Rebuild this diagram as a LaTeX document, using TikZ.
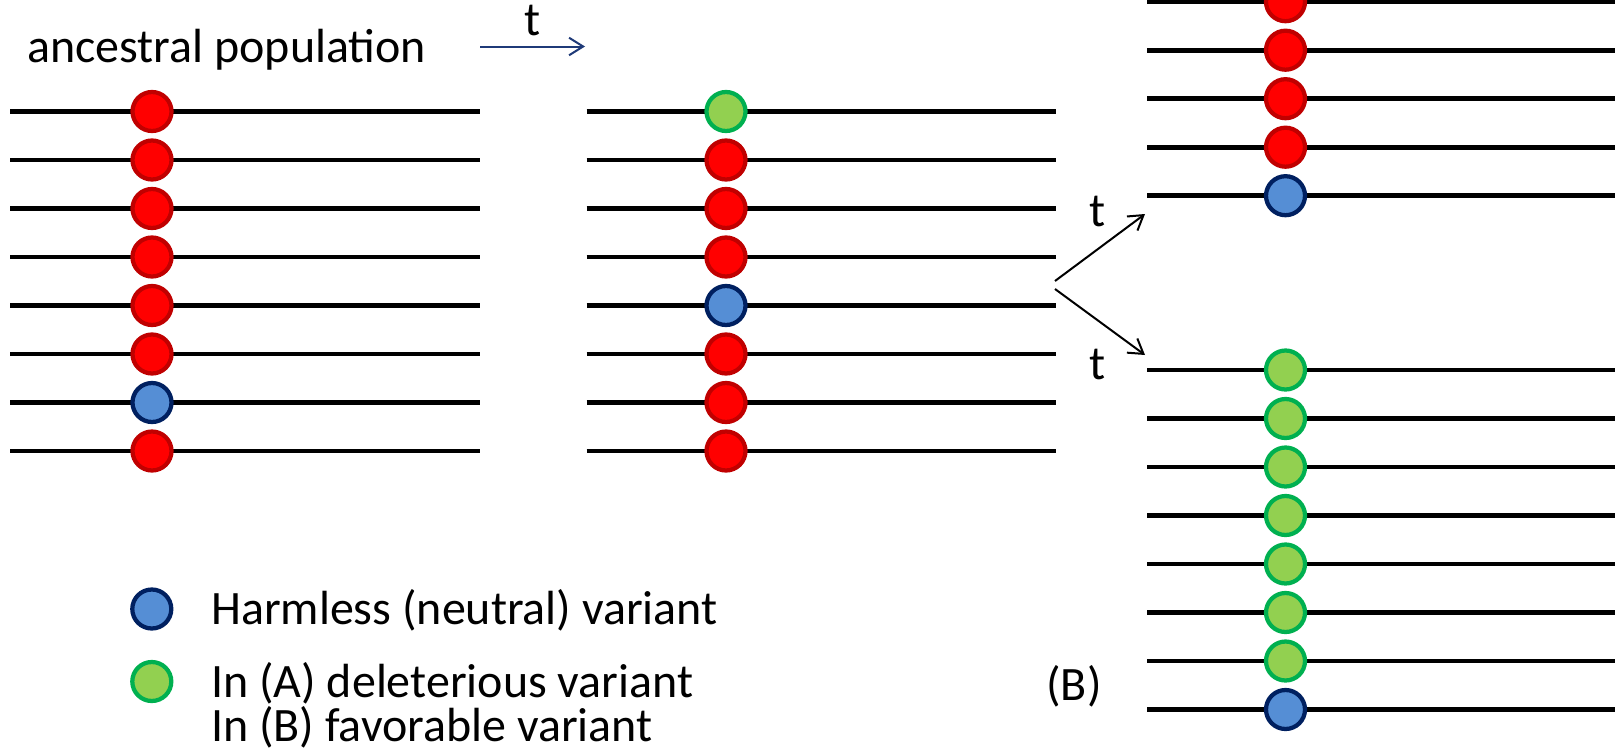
\documentclass[tikz,border=0pt]{standalone}
\usepackage{fontspec}
\setmainfont{Carlito}
\usetikzlibrary{arrows.meta,positioning}
\definecolor{redfill}{HTML}{FF0000}
\definecolor{redline}{HTML}{C00000}
\definecolor{bluefill}{HTML}{558ED5}
\definecolor{blueline}{HTML}{002060}
\definecolor{greenfill}{HTML}{92D050}
\definecolor{greenline}{HTML}{00B050}
\definecolor{timeblue}{HTML}{1F3A78}
\tikzset
{
    strand/.style  = {line width=0.095cm, black},
    dot/.style     = {circle, draw=#1line, fill=#1fill, line width=0.085cm, minimum size=0.78cm, inner sep=0pt},
    caption/.style = {font=\fontsize{27.3}{32}\selectfont, inner sep=0pt, text=black},
    timearrow/.style = {line width=0.04cm, -{Straight Barb[length=8pt,width=10pt]}}
}

\begin{document}
\begin{tikzpicture}[x=0.02cm, y=-0.02cm]
\useasboundingbox (0,0) rectangle (1619,747);
\newcommand\XA{10}
\newcommand\XB{586.5}
\newcommand\XC{1147}
\newcommand\YA{111.5}
\newcommand\YC{1.7}
\newcommand\YD{370}

% ancestral population
\foreach \kind [count=\i] in {red,red,red,red,red,red,blue,red} {
	\coordinate (a\i-w) at (\XA,\YA+48.5*\i-48.5);
	\coordinate (a\i-e) at (\XA+470,\YA+48.5*\i-48.5);
	\draw[strand] (a\i-w) -- (a\i-e);
	\node (a\i) [dot=\kind] at (\XA+142,\YA+48.5*\i-48.5) {};
}
% after time t
\foreach \kind [count=\i] in {green,red,red,red,blue,red,red,red} {
	\coordinate (b\i-w) at (\XB,\YA+48.5*\i-48.5);
	\coordinate (b\i-e) at (\XB+469,\YA+48.5*\i-48.5);
	\draw[strand] (b\i-w) -- (b\i-e);
	\node (b\i) [dot=\kind] at (\XB+139.5,\YA+48.5*\i-48.5) {};
}
% (A) upper branch
\foreach \kind [count=\i] in {red,red,red,red,blue} {
	\coordinate (c\i-w) at (\XC,\YC+48.5*\i-48.5);
	\coordinate (c\i-e) at (\XC+468,\YC+48.5*\i-48.5);
	\draw[strand] (c\i-w) -- (c\i-e);
	\node (c\i) [dot=\kind] at (\XC+138.5,\YC+48.5*\i-48.5) {};
}
% (B) lower branch
\foreach \kind [count=\i] in {green,green,green,green,green,green,green,blue} {
	\coordinate (d\i-w) at (\XC,\YD+48.5*\i-48.5);
	\coordinate (d\i-e) at (\XC+468,\YD+48.5*\i-48.5);
	\draw[strand] (d\i-w) -- (d\i-e);
	\node (d\i) [dot=\kind] at (\XC+138.5,\YD+48.5*\i-48.5) {};
}

\node (ancestral)	[caption,anchor=base west]	at (27,62)		{ancestral population};
\node (panelB)		[caption,anchor=base]		at (1074,700)	{(B)};
\node (tup)			[caption,anchor=base]		at (1098,226)	{t};
\node (tdown)		[caption,anchor=base]		at (1098,379)	{t};

% legend
\node (keyN)	[dot=blue]	at (151.8,609)		{};
\node (keyS)	[dot=green]	at (151.8,681.5)	{};
\node (keyNl)	[caption,anchor=base west]	at ([shift={(59,15)}]keyN)	{Harmless (neutral) variant};
\node (keySl)	[caption,anchor=base west]	at ([shift={(59,15.5)}]keyS)	{In (A) deleterious variant};
\node (keySl2)	[caption,anchor=base west]	at ([shift={(0,44)}]keySl.base west)	{In (B) favorable variant};

\coordinate (t0) at (480,46.5);
\coordinate (t1) at (585,46.5);
\coordinate (forkA) at (1055,281);
\coordinate (forkB) at (1055,289);
\coordinate (endA) at (1145,214);
\coordinate (endB) at (1145,355);

\path
(t0)	edge[timearrow,timeblue]	node[caption,above=0.2cm]	{t} (t1)
(forkA)	edge[timearrow]				node 					{} (endA)
(forkB)	edge[timearrow]				node 					{} (endB);
\end{tikzpicture}
\end{document}
